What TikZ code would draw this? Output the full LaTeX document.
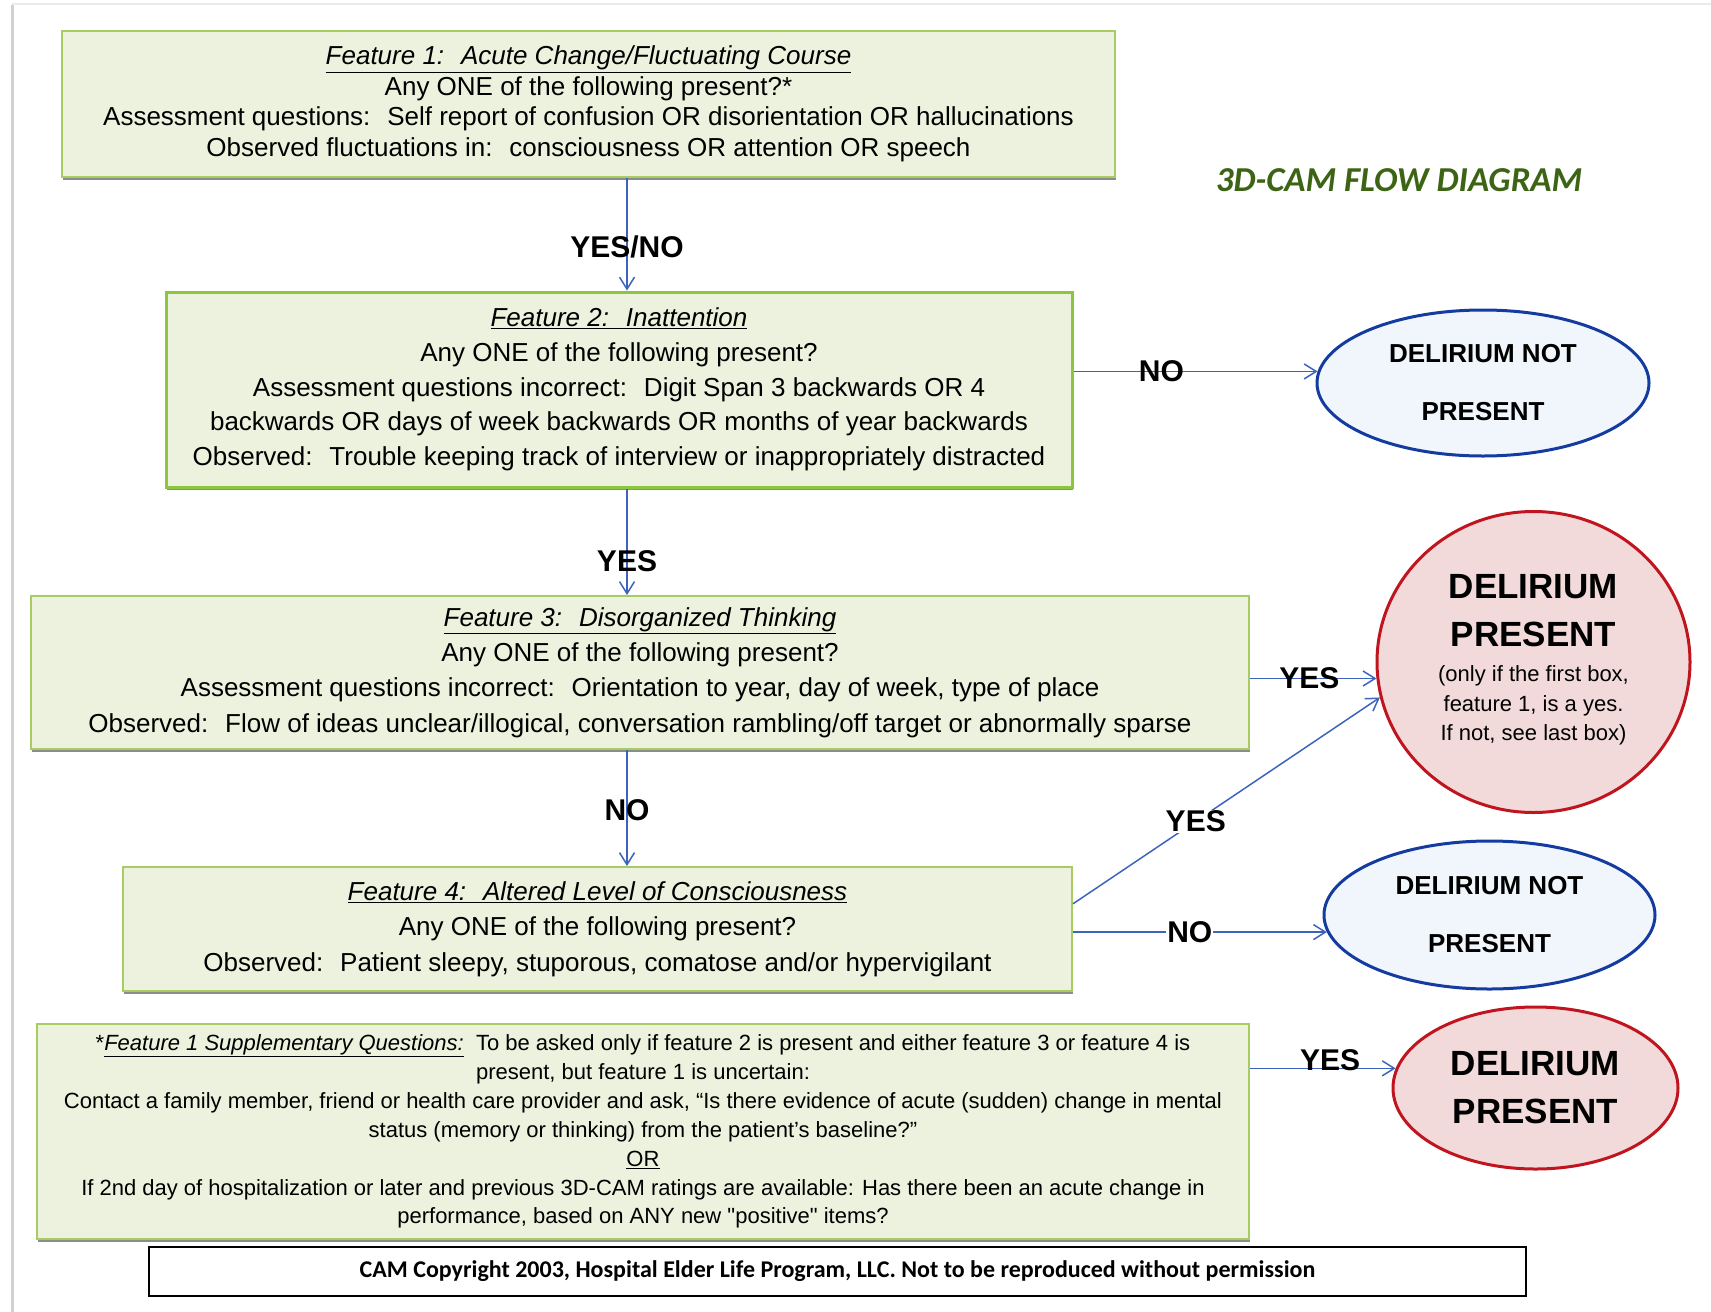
\documentclass[tikz,border=0pt]{standalone}
\usepackage{fontspec}
\setmainfont{Liberation Sans}
\newfontfamily\carlito{Carlito}
\usetikzlibrary{shapes.geometric,arrows.meta,shadows,calc}
\definecolor{boxfill}{RGB}{236,242,222}
\definecolor{boxline}{RGB}{168,204,98}
\definecolor{boxlinetwo}{RGB}{140,198,63}
\definecolor{ndfill}{RGB}{240,246,252}
\definecolor{ndline}{RGB}{20,60,160}
\definecolor{dpfill}{RGB}{242,218,218}
\definecolor{dpline}{RGB}{192,20,30}
\definecolor{flowblue}{RGB}{60,100,190}
\definecolor{titlegreen}{RGB}{60,100,20}
\begin{document}
\begin{tikzpicture}[x=1pt,y=-1pt,
	box/.style={draw=boxline, line width=2pt, fill=boxfill, align=center, inner sep=0pt,
		font=\fontsize{26}{30.5}\selectfont,
		drop shadow={shadow xshift=1pt, shadow yshift=-3pt, fill=black!45, opacity=1}},
	notpresent/.style={ellipse, draw=ndline, line width=3pt, fill=ndfill, inner sep=0pt,
		align=center, font=\bfseries\fontsize{26}{58}\selectfont},
	present/.style={ellipse, draw=dpline, line width=3pt, fill=dpfill, inner sep=0pt,
		align=center, font=\bfseries\fontsize{35}{48}\selectfont},
	flow/.style={draw=flowblue, line width=1.5pt, -{Straight Barb[length=12pt,width=15pt]}},
	lbl/.style={font=\bfseries\fontsize{30}{30}\selectfont, inner sep=1pt}]
		\useasboundingbox (0,0) rectangle (1711,1312);
		% page edge
		\draw[black!18, line width=3pt] (12,5) -- (12,1312);
		\draw[black!8, line width=1.5pt] (12,4) -- (1711,4);
		
		\node[box, minimum width=1053pt, minimum height=146pt] (feat-1) at (588.5,104)
			{\underline{\textit{Feature 1:~ Acute Change/Fluctuating Course}}\\
			Any ONE of the following present?*\\
			Assessment questions:~ Self report of confusion OR disorientation OR hallucinations\\
			Observed fluctuations in:~ consciousness OR attention OR speech};
		\node[box, draw=boxlinetwo, line width=3pt, minimum width=906pt, minimum height=195pt,
			font=\fontsize{26}{34.7}\selectfont] (feat-2) at (619,389.5)
			{\underline{\textit{Feature 2:~ Inattention}}\\
			Any ONE of the following present?\\
			Assessment questions incorrect:~ Digit Span 3 backwards OR 4\\
			backwards OR days of week backwards OR months of year backwards\\
			Observed:~ Trouble keeping track of interview or inappropriately distracted};
		\node[box, minimum width=1218pt, minimum height=153pt,
			font=\fontsize{26}{35.3}\selectfont] (feat-3) at (640,672.5)
			{\underline{\textit{Feature 3:~ Disorganized Thinking}}\\
			Any ONE of the following present?\\
			Assessment questions incorrect:~ Orientation to year, day of week, type of place\\
			Observed:~ Flow of ideas unclear/illogical, conversation rambling/off target or abnormally sparse};
		\node[box, minimum width=949pt, minimum height=124pt,
			font=\fontsize{26}{35.5}\selectfont] (feat-4) at (597.5,929)
			{\underline{\textit{Feature 4:~ Altered Level of Consciousness}}\\
			Any ONE of the following present?\\
			Observed:~ Patient sleepy, stuporous, comatose and/or hypervigilant};
		\node[box, minimum width=1212pt, minimum height=215pt,
			font=\fontsize{22}{28.9}\selectfont] (supp) at (643,1131.5)
			{*\underline{\textit{Feature 1 Supplementary Questions:}}~ To be asked only if feature 2 is present and either feature 3 or feature 4 is\\
			present, but feature 1 is uncertain:\\
			Contact a family member, friend or health care provider and ask, “Is there evidence of acute (sudden) change in mental\\
			status (memory or thinking) from the patient’s baseline?”\\
			\underline{OR}\\
			If 2nd day of hospitalization or later and previous 3D-CAM ratings are available: Has there been an acute change in\\
			performance, based on ANY new \textquotedbl positive\textquotedbl\ items?};
		\node[draw, line width=1.5pt, minimum width=1377pt, minimum height=49pt,
			font=\carlito\bfseries\fontsize{24}{24}\selectfont] (copyright) at (837.5,1271.5)
			{CAM Copyright 2003, Hospital Elder Life Program, LLC. Not to be reproduced without permission};
		
		\node[font=\carlito\bfseries\itshape\fontsize{35}{35}\selectfont, text=titlegreen] (title) at (1399,180)
			{3D-CAM FLOW DIAGRAM};
		
		\node[notpresent, minimum width=332pt, minimum height=146pt] (no-delirium-1) at (1483,383)
			{DELIRIUM NOT\\PRESENT};
		\node[present, minimum width=313pt, minimum height=301pt] (delirium-1) at (1533.5,662)
			{DELIRIUM\\PRESENT\\[-13pt]{\mdseries\fontsize{22}{29.5}\selectfont
			\begin{tabular}[t]{@{}c@{}}(only if the first box,\\feature 1, is a yes.\\If not, see last box)\end{tabular}}};
		\node[notpresent, minimum width=331pt, minimum height=148pt] (no-delirium-2) at (1489.5,915)
			{DELIRIUM NOT\\PRESENT};
		\node[present, minimum width=285pt, minimum height=162pt] (delirium-2) at (1535.5,1088)
			{DELIRIUM\\PRESENT};
		
		\coordinate (spine) at (627,0);
		\draw[flow] (feat-1.south -| spine) -- node[lbl, pos=0.61] {YES/NO} (feat-2.north -| spine);
		\draw[flow] (feat-2.south -| spine) -- node[lbl, pos=0.68] {YES} (feat-3.north -| spine);
		\draw[flow] (feat-3.south -| spine) -- node[lbl, pos=0.52] {NO} (feat-4.north -| spine);
		
		\draw[flow] (feat-2.east |- no-delirium-1.176) -- node[lbl, pos=0.36] {NO} (no-delirium-1.176);
		\draw[flow] (feat-3.east |- delirium-1.186) -- node[lbl, pos=0.47] {YES} (delirium-1.186);
		\draw[flow] ($(feat-4.north east)!0.3!(feat-4.south east)$) -- node[lbl, fill=white, pos=0.4] {YES} (delirium-1.193);
		\draw[flow] (feat-4.east |- no-delirium-2.186) -- node[lbl, fill=white, pos=0.46] {NO} (no-delirium-2.186);
		\draw[flow] (supp.east |- delirium-2.172) -- node[lbl, pos=0.55, yshift=8pt] {YES} (delirium-2.172);
	\end{tikzpicture}
\end{document}
